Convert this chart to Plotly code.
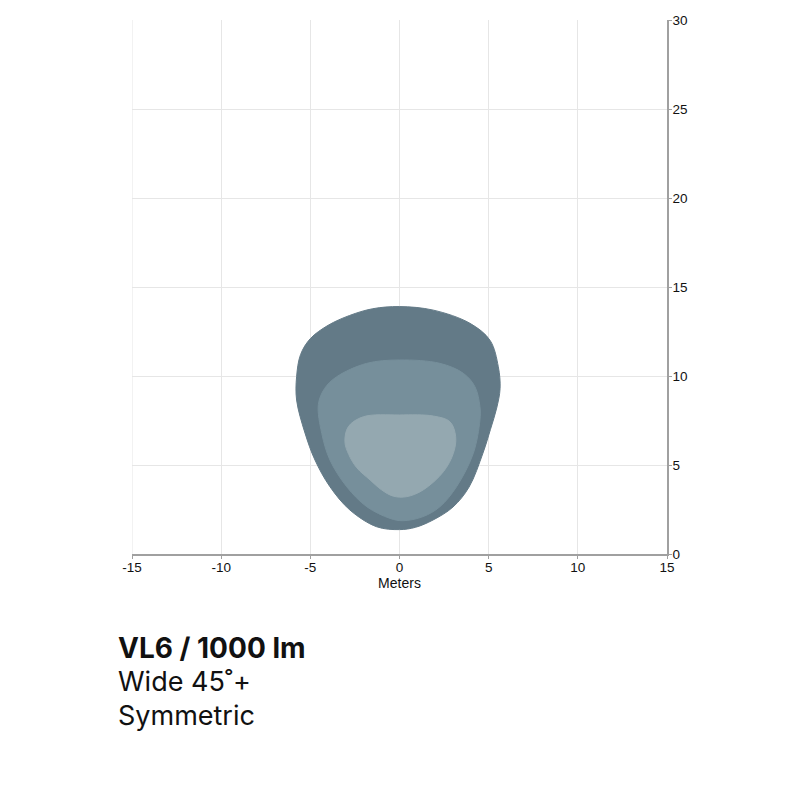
import plotly.graph_objects as go

# Isolux contour outlines (meters)
outer_x = [0.0, 1.9, 3.95, 5.08, 5.54, 5.64, 5.45, 5.1, 4.68, 3.9, 3.0, 1.88, 0.9, 0.0, -1.28, -2.78, -3.9, -4.74, -5.3, -5.77, -5.77, -5.55, -5.0, -4.0, -2.8, -1.5]
outer_y = [13.9, 13.7, 12.96, 12.0, 10.52, 9.3, 8.2, 7.0, 5.67, 3.76, 2.64, 1.91, 1.5, 1.37, 1.53, 2.47, 3.78, 5.28, 6.8, 8.65, 9.96, 11.2, 12.1, 12.85, 13.4, 13.78]

middle_x = [0.0, 2.27, 3.58, 4.23, 4.51, 4.51, 4.14, 3.2, 2.27, 1.32, 0.2, -0.53, -1.84, -2.96, -3.9, -4.36, -4.55, -4.2, -3.52, -1.84]
middle_y = [10.9, 10.71, 10.15, 9.4, 8.28, 7.53, 5.66, 3.78, 2.66, 2.1, 1.87, 2.0, 2.66, 3.78, 5.28, 6.78, 8.4, 9.3, 9.96, 10.71]

inner_x = [0.0, 1.9, 2.83, 3.15, 3.02, 2.46, 1.33, 0.4, -0.35, -1.0, -1.65, -2.4, -2.85, -3.06, -2.87, -2.03]
inner_y = [7.81, 7.75, 7.43, 6.59, 5.66, 4.62, 3.6, 3.22, 3.25, 3.6, 4.16, 4.85, 5.6, 6.3, 7.15, 7.71]

x_ticks = [-15, -10, -5, 0, 5, 10, 15]
y_ticks = [0, 5, 10, 15, 20, 25, 30]

colors = ["#637a87", "#768f9b", "#94a8b0"]

fig = go.Figure()
for xs, ys, c in [(outer_x, outer_y, colors[0]), (middle_x, middle_y, colors[1]), (inner_x, inner_y, colors[2])]:
    fig.add_trace(go.Scatter(
        x=xs + [xs[0]], y=ys + [ys[0]], mode="lines", fill="toself",
        fillcolor=c, line=dict(color=c, width=1, shape="spline", smoothing=1.0),
        hoverinfo="skip", showlegend=False))

fig.update_layout(
    width=800, height=800,
    margin=dict(l=124, r=141, t=12, b=254, autoexpand=False),
    paper_bgcolor="white", plot_bgcolor="white",
    font=dict(family="Liberation Sans, Arial, sans-serif", size=13.5, color="#111"),
    xaxis=dict(range=[-15, 15], tickvals=x_ticks, ticktext=[str(v) for v in x_ticks],
               showgrid=True, gridcolor="#e6e6e6", gridwidth=1, automargin=False,
               zeroline=False, showline=True, linecolor="#a0a0a0", linewidth=1.5,
               ticks="outside", ticklen=3, tickcolor="#a0a0a0", ticklabelstandoff=-3,
               title=dict(text="Meters", font=dict(size=14), standoff=0),
               tickfont=dict(size=13.5)),
    yaxis=dict(range=[0, 30], tickvals=y_ticks, ticktext=[str(v) for v in y_ticks],
               side="right", showgrid=True, gridcolor="#e6e6e6", gridwidth=1, automargin=False,
               zeroline=False, showline=True, linecolor="#a0a0a0", linewidth=1.5,
               ticks="outside", ticklen=3, tickcolor="#a0a0a0", ticklabelstandoff=-2,
               tickfont=dict(size=13.5)),
)

# left border line (grid at -15)
fig.add_shape(type="line", xref="x", yref="y", x0=-15, x1=-15, y0=0, y1=30,
              line=dict(color="#e6e6e6", width=1), layer="below")

title_font = "Inter, Lato, sans-serif"
fig.add_annotation(text="<b>VL6 / 1000 lm</b>", xref="paper", yref="paper",
                   x=-0.03, y=-0.176, xanchor="left", yanchor="middle", showarrow=False,
                   font=dict(family=title_font, size=28, color="#111"))
fig.add_annotation(text="Wide 45˚+", xref="paper", yref="paper",
                   x=-0.03, y=-0.239, xanchor="left", yanchor="middle", showarrow=False,
                   font=dict(family=title_font, size=27, color="#111"))
fig.add_annotation(text="Symmetric", xref="paper", yref="paper",
                   x=-0.03, y=-0.302, xanchor="left", yanchor="middle", showarrow=False,
                   font=dict(family=title_font, size=27, color="#111"))

fig.write_html("out.html")
